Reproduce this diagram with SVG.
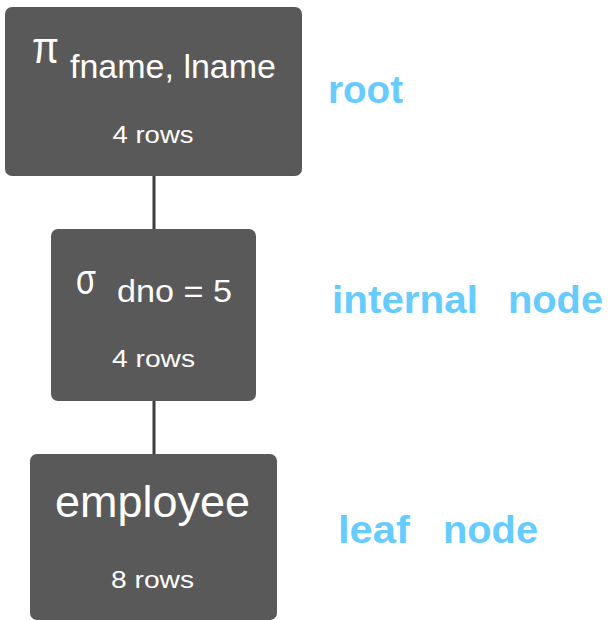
<svg xmlns="http://www.w3.org/2000/svg" width="608" height="620" viewBox="0 0 608 620">
  <style>
    .box { fill: #595959; }
    .edge { stroke: #3d3d3d; stroke-width: 3; fill: none; }
    .t { fill: #ffffff; font-family: "Liberation Sans", Arial, sans-serif; }
    .rows { font-size: 24px; text-anchor: middle; }
    .lbl { fill: #66CCFF; font-family: "Liberation Sans", Arial, sans-serif; font-weight: bold; font-size: 38.5px; }
  </style>
  <rect width="608" height="620" fill="#ffffff"/>
  <g id="connectors">
    <line class="edge" x1="154" y1="176" x2="154" y2="229"/>
    <line class="edge" x1="154" y1="401" x2="154" y2="454"/>
  </g>
  <g id="root">
    <rect class="box" x="5" y="7" width="297" height="169" rx="7"/>
    <text class="t" x="32" y="63" font-size="44" textLength="27" lengthAdjust="spacingAndGlyphs">π</text>
    <text class="t" x="70" y="78" font-size="34" textLength="206" lengthAdjust="spacingAndGlyphs">fname, lname</text>
    <text class="t rows" x="153" y="143" textLength="81" lengthAdjust="spacingAndGlyphs">4 rows</text>
  </g>
  <g id="select">
    <rect class="box" x="51" y="229" width="205" height="172" rx="7"/>
    <text class="t" x="76" y="294" font-size="42" textLength="20" lengthAdjust="spacingAndGlyphs">σ</text>
    <text class="t" x="117" y="302" font-size="32" textLength="115" lengthAdjust="spacingAndGlyphs">dno = 5</text>
    <text class="t rows" x="153.5" y="367" textLength="83" lengthAdjust="spacingAndGlyphs">4 rows</text>
  </g>
  <g id="employee">
    <rect class="box" x="30" y="454" width="247" height="166" rx="7"/>
    <text class="t" x="152.5" y="517" font-size="45" text-anchor="middle" textLength="195" lengthAdjust="spacingAndGlyphs">employee</text>
    <text class="t rows" x="152.5" y="588" textLength="83" lengthAdjust="spacingAndGlyphs">8 rows</text>
  </g>
  <g id="labels">
    <text class="lbl" x="328" y="103" textLength="75" lengthAdjust="spacingAndGlyphs">root</text>
    <text class="lbl" x="332" y="313" textLength="146" lengthAdjust="spacingAndGlyphs">internal</text>
    <text class="lbl" x="508" y="313" textLength="95" lengthAdjust="spacingAndGlyphs">node</text>
    <text class="lbl" x="338" y="543" textLength="72" lengthAdjust="spacingAndGlyphs">leaf</text>
    <text class="lbl" x="443" y="543" textLength="95" lengthAdjust="spacingAndGlyphs">node</text>
  </g>
</svg>
